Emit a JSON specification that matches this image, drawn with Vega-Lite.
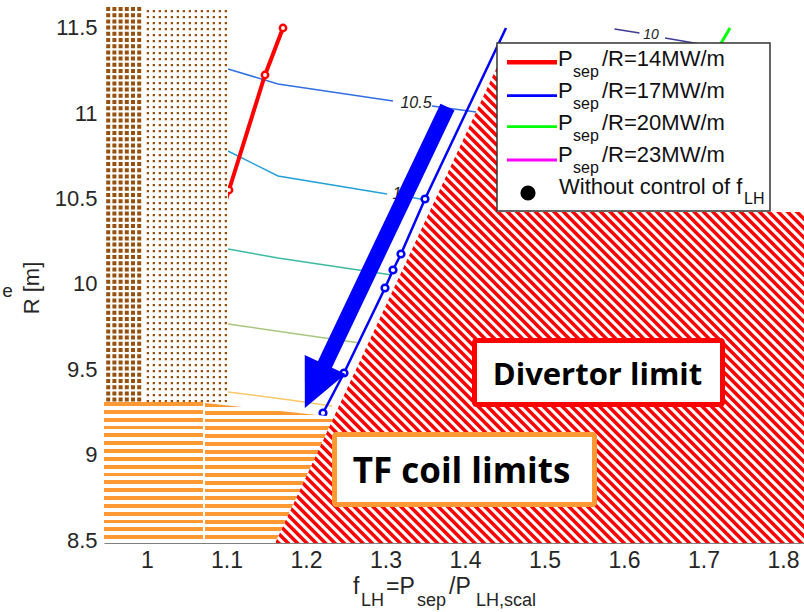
{
  "$schema": "https://vega.github.io/schema/vega-lite/v6.json",
  "width": 700,
  "height": 543,
  "autosize": {"type": "none"},
  "padding": {"left": 104, "top": 0, "right": 0, "bottom": 69},
  "background": "white",
  "config": {"view": {"stroke": null}},
  "datasets": {
    "stripe": [{"f": 0.98616, "R": 8.21002}, {"f": 1.78616, "R": 11.93585}],
    "cover": [
      {"f": 0.94591, "R": 11.66344, "R2": 8.48243},
      {"f": 1.16101, "R": 11.66344, "R2": 8.48243},
      {"f": 1.44025, "R": 11.66344, "R2": 11.271},
      {"f": 1.82642, "R": 11.66344, "R2": 11.271}
    ],
    "rects": [
      {"g": "coverTR", "f": 1.44025, "f2": 1.82642, "R": 10.4215, "R2": 11.66344},
      {"g": "brownBase", "f": 0.94591, "f2": 1.10189, "R": 9.3084, "R2": 11.6225},
      {"g": "orangeA", "f": 0.94591, "f2": 1.07044, "R": 8.48243, "R2": 9.3084},
      {"g": "legend", "f": 1.44025, "f2": 1.78365, "R": 10.4274, "R2": 11.4115},
      {"g": "divertor", "f": 1.41195, "f2": 1.7239, "R": 9.2938, "R2": 9.6687},
      {"g": "tf", "f": 1.23585, "f2": 1.56289, "R": 8.708, "R2": 9.118}
    ],
    "orangeB": [
      {"f": 1.07296, "R": 9.30258, "R2": 8.48243},
      {"f": 1.16101, "R": 9.2592, "R2": 8.48243},
      {"f": 1.23522, "R": 9.2226, "R2": 9.2226}
    ],
    "pattern": [
      {"g": "denseV", "f": 0.97044, "R": 11.6225}, {"g": "denseV", "f": 0.97044, "R": 9.3084},
      {"g": "denseH", "f": 0.94591, "R": 10.46545}, {"g": "denseH", "f": 0.99497, "R": 10.46545},
      {"g": "lightV", "f": 1.04843, "R": 11.6049}, {"g": "lightV", "f": 1.04843, "R": 9.3084},
      {"g": "lightH", "f": 0.99497, "R": 10.45665}, {"g": "lightH", "f": 1.10189, "R": 10.45665}
    ],
    "curves": [
      {"k": "c", "s": "cA", "seg": "A1", "f": 1.10189, "R": 11.2592},
      {"k": "c", "s": "cA", "seg": "A1", "f": 1.16478, "R": 11.1713},
      {"k": "c", "s": "cA", "seg": "A1", "f": 1.30943, "R": 11.0718},
      {"k": "c", "s": "cA", "seg": "A2", "f": 1.35849, "R": 11.0425},
      {"k": "c", "s": "cA", "seg": "A2", "f": 1.41384, "R": 11.0073},
      {"k": "c", "s": "cB", "seg": "B1", "f": 1.10189, "R": 10.7789},
      {"k": "c", "s": "cB", "seg": "B1", "f": 1.16478, "R": 10.6324},
      {"k": "c", "s": "cB", "seg": "B1", "f": 1.30189, "R": 10.5272},
      {"k": "c", "s": "cB", "seg": "B2", "f": 1.33082, "R": 10.5097},
      {"k": "c", "s": "cB", "seg": "B2", "f": 1.34969, "R": 10.4921},
      {"k": "c", "s": "cC", "seg": "C", "f": 1.10189, "R": 10.2047},
      {"k": "c", "s": "cC", "seg": "C", "f": 1.16478, "R": 10.152},
      {"k": "c", "s": "cC", "seg": "C", "f": 1.30818, "R": 10.0524},
      {"k": "c", "s": "cD", "seg": "D", "f": 1.10189, "R": 9.7654},
      {"k": "c", "s": "cD", "seg": "D", "f": 1.17987, "R": 9.7127},
      {"k": "c", "s": "cD", "seg": "D", "f": 1.26792, "R": 9.6541},
      {"k": "c", "s": "cE", "seg": "E", "f": 1.10189, "R": 9.367},
      {"k": "c", "s": "cE", "seg": "E", "f": 1.17987, "R": 9.3201},
      {"k": "c", "s": "cE", "seg": "E", "f": 1.2327, "R": 9.285},
      {"k": "c", "s": "cF", "seg": "F1", "f": 1.58805, "R": 11.4936},
      {"k": "c", "s": "cF", "seg": "F1", "f": 1.6195, "R": 11.4701},
      {"k": "c", "s": "cF", "seg": "F2", "f": 1.65157, "R": 11.4408},
      {"k": "c", "s": "cF", "seg": "F2", "f": 1.6956, "R": 11.4057},
      {"k": "p", "s": "14", "seg": "R", "f": 1.08553, "R": 10.2868},
      {"k": "p", "s": "14", "seg": "R", "f": 1.10314, "R": 10.5504},
      {"k": "p", "s": "14", "seg": "R", "f": 1.14843, "R": 11.2241},
      {"k": "p", "s": "14", "seg": "R", "f": 1.17107, "R": 11.4994},
      {"k": "p", "s": "17", "seg": "B", "f": 1.22138, "R": 9.244},
      {"k": "p", "s": "17", "seg": "B", "f": 1.2478, "R": 9.4783},
      {"k": "p", "s": "17", "seg": "B", "f": 1.29937, "R": 9.9763},
      {"k": "p", "s": "17", "seg": "B", "f": 1.30943, "R": 10.0817},
      {"k": "p", "s": "17", "seg": "B", "f": 1.3195, "R": 10.1755},
      {"k": "p", "s": "17", "seg": "B", "f": 1.34969, "R": 10.4977},
      {"k": "p", "s": "17", "seg": "B", "f": 1.45157, "R": 11.4994},
      {"k": "p", "s": "20", "seg": "G", "f": 1.59748, "R": 10.4215},
      {"k": "p", "s": "20", "seg": "G", "f": 1.73333, "R": 11.4994}
    ],
    "circles": [
      {"s": "14", "f": 1.17107, "R": 11.4994},
      {"s": "14", "f": 1.14843, "R": 11.2241},
      {"s": "14", "f": 1.10314, "R": 10.5504},
      {"s": "17", "f": 1.34969, "R": 10.4977},
      {"s": "17", "f": 1.3195, "R": 10.1755},
      {"s": "17", "f": 1.30943, "R": 10.0817},
      {"s": "17", "f": 1.29937, "R": 9.9763},
      {"s": "17", "f": 1.2478, "R": 9.4783},
      {"s": "17", "f": 1.22138, "R": 9.244}
    ],
    "arrow": [{"f": 1.37799, "R": 11.0366}, {"f": 1.21836, "R": 9.4754}],
    "arrowhead": [{"f": 1.21208, "R": 9.408}],
    "legrules": [
      {"s": "14", "f": 1.45283, "f2": 1.51572, "R": 11.2985},
      {"s": "17", "f": 1.45283, "f2": 1.51572, "R": 11.1029},
      {"s": "20", "f": 1.45283, "f2": 1.51572, "R": 10.9212},
      {"s": "23", "f": 1.45283, "f2": 1.51572, "R": 10.7261}
    ],
    "legdot": [{"f": 1.47925, "R": 10.5328}],
    "texts": [
      {"g": "lm", "t": "P", "f": 1.51698, "R": 11.2786},
      {"g": "lm", "t": "P", "f": 1.51698, "R": 11.0911},
      {"g": "lm", "t": "P", "f": 1.51698, "R": 10.9007},
      {"g": "lm", "t": "P", "f": 1.51698, "R": 10.7162},
      {"g": "lm", "t": "/R=14MW/m", "f": 1.57233, "R": 11.2786},
      {"g": "lm", "t": "/R=17MW/m", "f": 1.57233, "R": 11.0911},
      {"g": "lm", "t": "/R=20MW/m", "f": 1.57233, "R": 10.9007},
      {"g": "lm", "t": "/R=23MW/m", "f": 1.57233, "R": 10.7162},
      {"g": "lm", "t": "Without control of f", "f": 1.51824, "R": 10.5272},
      {"g": "ls", "t": "sep", "f": 1.53585, "R": 11.2142},
      {"g": "ls", "t": "sep", "f": 1.53585, "R": 11.0267},
      {"g": "ls", "t": "sep", "f": 1.53585, "R": 10.8374},
      {"g": "ls", "t": "sep", "f": 1.53585, "R": 10.6517},
      {"g": "ls", "t": "LH", "f": 1.75094, "R": 10.4684},
      {"g": "xt", "t": "f", "f": 1.25912, "R": 8.1837},
      {"g": "xt", "t": "=P", "f": 1.30063, "R": 8.1837},
      {"g": "xt", "t": "/P", "f": 1.37987, "R": 8.1837},
      {"g": "xs", "t": "LH", "f": 1.26918, "R": 8.1134},
      {"g": "xs", "t": "sep", "f": 1.33962, "R": 8.1134},
      {"g": "xs", "t": "LH,scal", "f": 1.41384, "R": 8.1134},
      {"g": "yt", "t": "R [m]", "f": 0.85535, "R": 9.9763},
      {"g": "e", "t": "e", "f": 0.82453, "R": 9.9235},
      {"g": "cl", "t": "10.5", "f": 1.33836, "R": 11.0601},
      {"g": "cl", "t": "1", "f": 1.31447, "R": 10.527},
      {"g": "cl2", "t": "10", "f": 1.63396, "R": 11.4584},
      {"g": "bd", "t": "Divertor limit", "f": 1.56667, "R": 9.408},
      {"g": "bt", "t": "TF coil limits", "f": 1.3956, "R": 8.8339}
    ]
  },
  "encoding": {
    "x": {
      "field": "f", "type": "quantitative",
      "scale": {"domain": [0.94591, 1.82642], "zero": false, "nice": false},
      "axis": {"values": [1, 1.1, 1.2, 1.3, 1.4, 1.5, 1.6, 1.7, 1.8], "format": "~g", "title": null, "grid": false, "ticks": false, "domain": true, "domainColor": "#808080", "domainWidth": 1, "labelFont": "Liberation Sans", "labelFontSize": 23, "labelColor": "#262626", "labelPadding": 6, "zindex": 1, "labelFlush": false, "labelOverlap": false}
    },
    "y": {
      "field": "R", "type": "quantitative",
      "scale": {"domain": [8.48243, 11.66344], "zero": false, "nice": false},
      "axis": {"values": [8.5, 9, 9.5, 10, 10.5, 11, 11.5], "format": "~g", "title": null, "grid": false, "ticks": false, "domain": false, "labelFont": "Liberation Sans", "labelFontSize": 22, "labelColor": "#262626", "labelPadding": 7, "labelFlush": false, "labelOverlap": false}
    }
  },
  "layer": [
    {"data": {"name": "stripe"}, "mark": {"type": "line", "color": "#ff0000", "strokeWidth": 900, "strokeDash": [3.5, 3.1], "strokeCap": "butt", "clip": true}},
    {"data": {"name": "cover"}, "mark": {"type": "area", "color": "#ffffff", "opacity": 1, "line": false}, "encoding": {"y2": {"field": "R2"}}},
    {"data": {"name": "rects"}, "transform": [{"filter": "datum.g == 'coverTR'"}], "mark": {"type": "rect", "color": "#ffffff"}, "encoding": {"x2": {"field": "f2"}, "y2": {"field": "R2"}}},
    {"data": {"name": "curves"}, "transform": [{"filter": "datum.k == 'c'"}], "mark": {"type": "line", "strokeWidth": 1.5},
     "encoding": {"detail": {"field": "seg"}, "color": {"field": "s", "type": "nominal", "legend": null, "scale": {"domain": ["14", "17", "20", "23", "cA", "cB", "cC", "cD", "cE", "cF"], "range": ["#ff0000", "#0000ff", "#00ff00", "#ff00ff", "#3070e0", "#22a0d8", "#3cbba0", "#a8c880", "#fcc868", "#3e3c95"]}}}},
    {"data": {"name": "curves"}, "transform": [{"filter": "datum.s == '14'"}], "mark": {"type": "line", "color": "#ff0000", "strokeWidth": 4}},
    {"data": {"name": "curves"}, "transform": [{"filter": "datum.s == '17'"}], "mark": {"type": "line", "color": "#0000ff", "strokeWidth": 2.5}},
    {"data": {"name": "curves"}, "transform": [{"filter": "datum.s == '20'"}], "mark": {"type": "line", "color": "#00ff00", "strokeWidth": 3}},
    {"data": {"name": "circles"}, "transform": [{"filter": "datum.s == '14'"}], "mark": {"type": "point", "shape": "circle", "size": 40, "filled": true, "fill": "#ffffff", "stroke": "#ff0000", "strokeWidth": 2.5, "opacity": 1}},
    {"data": {"name": "circles"}, "transform": [{"filter": "datum.s == '17'"}], "mark": {"type": "point", "shape": "circle", "size": 45, "filled": true, "fill": "#ffffff", "stroke": "#0000ff", "strokeWidth": 2.5, "opacity": 1}},
    {"data": {"name": "rects"}, "transform": [{"filter": "datum.g == 'brownBase'"}], "mark": {"type": "rect", "color": "#ffffff"}, "encoding": {"x2": {"field": "f2"}, "y2": {"field": "R2"}}},
    {"data": {"name": "pattern"}, "transform": [{"filter": "datum.g == 'denseV'"}], "mark": {"type": "line", "color": "#96500f", "strokeWidth": 39, "strokeDash": [4, 2.2], "strokeCap": "butt"}},
    {"data": {"name": "pattern"}, "transform": [{"filter": "datum.g == 'denseH'"}], "mark": {"type": "line", "color": "#ffffff", "strokeWidth": 395, "strokeDash": [2.2, 4], "strokeCap": "butt"}},
    {"data": {"name": "pattern"}, "transform": [{"filter": "datum.g == 'lightV'"}], "mark": {"type": "line", "color": "#96500f", "strokeWidth": 85, "strokeDash": [2.3, 3.7], "strokeCap": "butt"}},
    {"data": {"name": "pattern"}, "transform": [{"filter": "datum.g == 'lightH'"}], "mark": {"type": "line", "color": "#ffffff", "strokeWidth": 392, "strokeDash": [3.7, 2.3], "strokeCap": "butt"}},
    {"data": {"name": "rects"}, "transform": [{"filter": "datum.g == 'orangeA'"}],
     "mark": {"type": "rect", "color": {"gradient": "linear", "x1": 0, "y1": 0, "x2": 0, "y2": 1, "stops": [
       {"offset": 0, "color": "#ff9933"}, {"offset": 0.02778, "color": "#ff9933"}, {"offset": 0.02778, "color": "#ffffff"}, {"offset": 0.05556, "color": "#ffffff"},
       {"offset": 0.05556, "color": "#ff9933"}, {"offset": 0.08333, "color": "#ff9933"}, {"offset": 0.08333, "color": "#ffffff"}, {"offset": 0.11111, "color": "#ffffff"},
       {"offset": 0.11111, "color": "#ff9933"}, {"offset": 0.13889, "color": "#ff9933"}, {"offset": 0.13889, "color": "#ffffff"}, {"offset": 0.16667, "color": "#ffffff"},
       {"offset": 0.16667, "color": "#ff9933"}, {"offset": 0.19444, "color": "#ff9933"}, {"offset": 0.19444, "color": "#ffffff"}, {"offset": 0.22222, "color": "#ffffff"},
       {"offset": 0.22222, "color": "#ff9933"}, {"offset": 0.25, "color": "#ff9933"}, {"offset": 0.25, "color": "#ffffff"}, {"offset": 0.27778, "color": "#ffffff"},
       {"offset": 0.27778, "color": "#ff9933"}, {"offset": 0.30556, "color": "#ff9933"}, {"offset": 0.30556, "color": "#ffffff"}, {"offset": 0.33333, "color": "#ffffff"},
       {"offset": 0.33333, "color": "#ff9933"}, {"offset": 0.36111, "color": "#ff9933"}, {"offset": 0.36111, "color": "#ffffff"}, {"offset": 0.38889, "color": "#ffffff"},
       {"offset": 0.38889, "color": "#ff9933"}, {"offset": 0.41667, "color": "#ff9933"}, {"offset": 0.41667, "color": "#ffffff"}, {"offset": 0.44444, "color": "#ffffff"},
       {"offset": 0.44444, "color": "#ff9933"}, {"offset": 0.47222, "color": "#ff9933"}, {"offset": 0.47222, "color": "#ffffff"}, {"offset": 0.5, "color": "#ffffff"},
       {"offset": 0.5, "color": "#ff9933"}, {"offset": 0.52778, "color": "#ff9933"}, {"offset": 0.52778, "color": "#ffffff"}, {"offset": 0.55556, "color": "#ffffff"},
       {"offset": 0.55556, "color": "#ff9933"}, {"offset": 0.58333, "color": "#ff9933"}, {"offset": 0.58333, "color": "#ffffff"}, {"offset": 0.61111, "color": "#ffffff"},
       {"offset": 0.61111, "color": "#ff9933"}, {"offset": 0.63889, "color": "#ff9933"}, {"offset": 0.63889, "color": "#ffffff"}, {"offset": 0.66667, "color": "#ffffff"},
       {"offset": 0.66667, "color": "#ff9933"}, {"offset": 0.69444, "color": "#ff9933"}, {"offset": 0.69444, "color": "#ffffff"}, {"offset": 0.72222, "color": "#ffffff"},
       {"offset": 0.72222, "color": "#ff9933"}, {"offset": 0.75, "color": "#ff9933"}, {"offset": 0.75, "color": "#ffffff"}, {"offset": 0.77778, "color": "#ffffff"},
       {"offset": 0.77778, "color": "#ff9933"}, {"offset": 0.80556, "color": "#ff9933"}, {"offset": 0.80556, "color": "#ffffff"}, {"offset": 0.83333, "color": "#ffffff"},
       {"offset": 0.83333, "color": "#ff9933"}, {"offset": 0.86111, "color": "#ff9933"}, {"offset": 0.86111, "color": "#ffffff"}, {"offset": 0.88889, "color": "#ffffff"},
       {"offset": 0.88889, "color": "#ff9933"}, {"offset": 0.91667, "color": "#ff9933"}, {"offset": 0.91667, "color": "#ffffff"}, {"offset": 0.94444, "color": "#ffffff"},
       {"offset": 0.94444, "color": "#ff9933"}, {"offset": 0.97222, "color": "#ff9933"}, {"offset": 0.97222, "color": "#ffffff"}, {"offset": 1, "color": "#ffffff"}]}},
     "encoding": {"x2": {"field": "f2"}, "y2": {"field": "R2"}}},
    {"data": {"name": "orangeB"},
     "mark": {"type": "area", "line": false, "opacity": 1, "color": {"gradient": "linear", "x1": 0, "y1": 0, "x2": 0, "y2": 1, "stops": [
       {"offset": 0, "color": "#ff9933"}, {"offset": 0.02778, "color": "#ff9933"}, {"offset": 0.02778, "color": "#ffffff"}, {"offset": 0.05556, "color": "#ffffff"},
       {"offset": 0.05556, "color": "#ff9933"}, {"offset": 0.08333, "color": "#ff9933"}, {"offset": 0.08333, "color": "#ffffff"}, {"offset": 0.11111, "color": "#ffffff"},
       {"offset": 0.11111, "color": "#ff9933"}, {"offset": 0.13889, "color": "#ff9933"}, {"offset": 0.13889, "color": "#ffffff"}, {"offset": 0.16667, "color": "#ffffff"},
       {"offset": 0.16667, "color": "#ff9933"}, {"offset": 0.19444, "color": "#ff9933"}, {"offset": 0.19444, "color": "#ffffff"}, {"offset": 0.22222, "color": "#ffffff"},
       {"offset": 0.22222, "color": "#ff9933"}, {"offset": 0.25, "color": "#ff9933"}, {"offset": 0.25, "color": "#ffffff"}, {"offset": 0.27778, "color": "#ffffff"},
       {"offset": 0.27778, "color": "#ff9933"}, {"offset": 0.30556, "color": "#ff9933"}, {"offset": 0.30556, "color": "#ffffff"}, {"offset": 0.33333, "color": "#ffffff"},
       {"offset": 0.33333, "color": "#ff9933"}, {"offset": 0.36111, "color": "#ff9933"}, {"offset": 0.36111, "color": "#ffffff"}, {"offset": 0.38889, "color": "#ffffff"},
       {"offset": 0.38889, "color": "#ff9933"}, {"offset": 0.41667, "color": "#ff9933"}, {"offset": 0.41667, "color": "#ffffff"}, {"offset": 0.44444, "color": "#ffffff"},
       {"offset": 0.44444, "color": "#ff9933"}, {"offset": 0.47222, "color": "#ff9933"}, {"offset": 0.47222, "color": "#ffffff"}, {"offset": 0.5, "color": "#ffffff"},
       {"offset": 0.5, "color": "#ff9933"}, {"offset": 0.52778, "color": "#ff9933"}, {"offset": 0.52778, "color": "#ffffff"}, {"offset": 0.55556, "color": "#ffffff"},
       {"offset": 0.55556, "color": "#ff9933"}, {"offset": 0.58333, "color": "#ff9933"}, {"offset": 0.58333, "color": "#ffffff"}, {"offset": 0.61111, "color": "#ffffff"},
       {"offset": 0.61111, "color": "#ff9933"}, {"offset": 0.63889, "color": "#ff9933"}, {"offset": 0.63889, "color": "#ffffff"}, {"offset": 0.66667, "color": "#ffffff"},
       {"offset": 0.66667, "color": "#ff9933"}, {"offset": 0.69444, "color": "#ff9933"}, {"offset": 0.69444, "color": "#ffffff"}, {"offset": 0.72222, "color": "#ffffff"},
       {"offset": 0.72222, "color": "#ff9933"}, {"offset": 0.75, "color": "#ff9933"}, {"offset": 0.75, "color": "#ffffff"}, {"offset": 0.77778, "color": "#ffffff"},
       {"offset": 0.77778, "color": "#ff9933"}, {"offset": 0.80556, "color": "#ff9933"}, {"offset": 0.80556, "color": "#ffffff"}, {"offset": 0.83333, "color": "#ffffff"},
       {"offset": 0.83333, "color": "#ff9933"}, {"offset": 0.86111, "color": "#ff9933"}, {"offset": 0.86111, "color": "#ffffff"}, {"offset": 0.88889, "color": "#ffffff"},
       {"offset": 0.88889, "color": "#ff9933"}, {"offset": 0.91667, "color": "#ff9933"}, {"offset": 0.91667, "color": "#ffffff"}, {"offset": 0.94444, "color": "#ffffff"},
       {"offset": 0.94444, "color": "#ff9933"}, {"offset": 0.97222, "color": "#ff9933"}, {"offset": 0.97222, "color": "#ffffff"}, {"offset": 1, "color": "#ffffff"}]}},
     "encoding": {"y2": {"field": "R2"}}},
    {"data": {"name": "texts"}, "transform": [{"filter": "datum.g == 'cl'"}], "mark": {"type": "text", "font": "Liberation Sans", "fontSize": 16, "fontStyle": "italic", "align": "center", "baseline": "middle", "color": "#222222"}, "encoding": {"text": {"field": "t"}}},
    {"data": {"name": "texts"}, "transform": [{"filter": "datum.g == 'cl2'"}], "mark": {"type": "text", "font": "Liberation Sans", "fontSize": 14, "fontStyle": "italic", "align": "center", "baseline": "middle", "color": "#222222"}, "encoding": {"text": {"field": "t"}}},
    {"data": {"name": "arrow"}, "mark": {"type": "line", "color": "#0000ff", "strokeWidth": 15.5, "strokeCap": "butt"}},
    {"data": {"name": "arrowhead"}, "mark": {"type": "point", "shape": "M-1,-1L1,-1L0,1.13Z", "size": 2025, "angle": 25, "filled": true, "color": "#0000ff", "opacity": 1}},
    {"data": {"name": "rects"}, "transform": [{"filter": "datum.g == 'legend'"}], "mark": {"type": "rect", "fill": "#ffffff", "stroke": "#333333", "strokeWidth": 1.5}, "encoding": {"x2": {"field": "f2"}, "y2": {"field": "R2"}}},
    {"data": {"name": "legrules"}, "transform": [{"filter": "datum.s == '14'"}], "mark": {"type": "rule", "color": "#ff0000", "strokeWidth": 4.5}, "encoding": {"x2": {"field": "f2"}}},
    {"data": {"name": "legrules"}, "transform": [{"filter": "datum.s != '14'"}], "mark": {"type": "rule", "strokeWidth": 2.8},
     "encoding": {"x2": {"field": "f2"}, "color": {"field": "s", "type": "nominal", "legend": null, "scale": {"domain": ["14", "17", "20", "23", "cA", "cB", "cC", "cD", "cE", "cF"], "range": ["#ff0000", "#0000ff", "#00ff00", "#ff00ff", "#3070e0", "#22a0d8", "#3cbba0", "#a8c880", "#fcc868", "#3e3c95"]}}}},
    {"data": {"name": "legdot"}, "mark": {"type": "point", "shape": "circle", "size": 230, "filled": true, "color": "#000000", "opacity": 1}},
    {"data": {"name": "texts"}, "transform": [{"filter": "datum.g == 'lm'"}], "mark": {"type": "text", "font": "Liberation Sans", "fontSize": 22, "align": "left", "baseline": "alphabetic", "color": "#111111"}, "encoding": {"text": {"field": "t"}}},
    {"data": {"name": "texts"}, "transform": [{"filter": "datum.g == 'ls'"}], "mark": {"type": "text", "font": "Liberation Sans", "fontSize": 16, "align": "left", "baseline": "alphabetic", "color": "#111111"}, "encoding": {"text": {"field": "t"}}},
    {"data": {"name": "rects"}, "transform": [{"filter": "datum.g == 'divertor'"}], "mark": {"type": "rect", "fill": "#ffffff", "stroke": "#ff0000", "strokeWidth": 5, "cornerRadius": 2}, "encoding": {"x2": {"field": "f2"}, "y2": {"field": "R2"}}},
    {"data": {"name": "rects"}, "transform": [{"filter": "datum.g == 'tf'"}], "mark": {"type": "rect", "fill": "#ffffff", "stroke": "#ff9933", "strokeWidth": 5, "cornerRadius": 2}, "encoding": {"x2": {"field": "f2"}, "y2": {"field": "R2"}}},
    {"data": {"name": "texts"}, "transform": [{"filter": "datum.g == 'bd'"}], "mark": {"type": "text", "font": "Open Sans", "fontWeight": "bold", "fontSize": 31, "align": "center", "baseline": "alphabetic", "color": "#000000"}, "encoding": {"text": {"field": "t"}}},
    {"data": {"name": "texts"}, "transform": [{"filter": "datum.g == 'bt'"}], "mark": {"type": "text", "font": "Open Sans", "fontWeight": "bold", "fontSize": 35, "align": "center", "baseline": "alphabetic", "color": "#000000"}, "encoding": {"text": {"field": "t"}}},
    {"data": {"name": "texts"}, "transform": [{"filter": "datum.g == 'xt'"}], "mark": {"type": "text", "font": "Liberation Sans", "fontSize": 23, "align": "left", "baseline": "alphabetic", "color": "#262626"}, "encoding": {"text": {"field": "t"}}},
    {"data": {"name": "texts"}, "transform": [{"filter": "datum.g == 'xs'"}], "mark": {"type": "text", "font": "Liberation Sans", "fontSize": 18, "align": "left", "baseline": "alphabetic", "color": "#262626"}, "encoding": {"text": {"field": "t"}}},
    {"data": {"name": "texts"}, "transform": [{"filter": "datum.g == 'yt'"}], "mark": {"type": "text", "font": "Liberation Sans", "fontSize": 22, "angle": 270, "align": "center", "baseline": "middle", "color": "#262626"}, "encoding": {"text": {"field": "t"}}},
    {"data": {"name": "texts"}, "transform": [{"filter": "datum.g == 'e'"}], "mark": {"type": "text", "font": "Liberation Sans", "fontSize": 19, "align": "center", "baseline": "alphabetic", "color": "#262626"}, "encoding": {"text": {"field": "t"}}}
  ]
}
